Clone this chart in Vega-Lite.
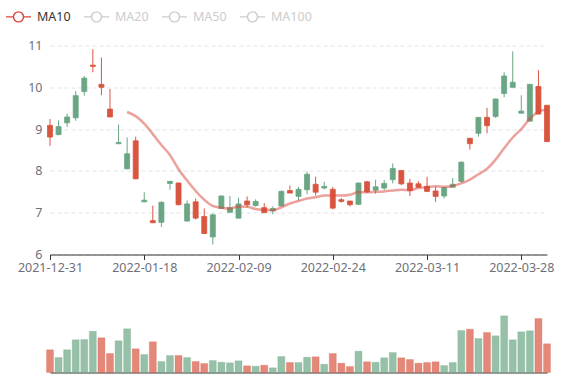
{
  "$schema": "https://vega.github.io/schema/vega-lite/v6.json",
  "padding": {"left": 0, "top": 2.5, "right": 5, "bottom": 3},
  "bounds": "flush",
  "spacing": 46,
  "config": {
    "font": "Noto Sans",
    "view": {"stroke": null},
    "axis": {"labelFont": "Noto Sans", "labelFontSize": 12.5, "labelColor": "#6e7079", "title": null}
  },
  "data": {
    "values": [
      {"date": "2021-12-31", "open": 9.09, "high": 9.24, "low": 8.60, "close": 8.81, "volume": 227, "volUp": false, "ma10": null},
      {"date": "2022-01-04", "open": 8.87, "high": 9.21, "low": 8.85, "close": 9.06, "volume": 150, "volUp": true, "ma10": null},
      {"date": "2022-01-05", "open": 9.15, "high": 9.37, "low": 9.05, "close": 9.29, "volume": 227, "volUp": true, "ma10": null},
      {"date": "2022-01-06", "open": 9.27, "high": 9.91, "low": 9.20, "close": 9.80, "volume": 327, "volUp": true, "ma10": null},
      {"date": "2022-01-07", "open": 9.90, "high": 10.27, "low": 9.80, "close": 10.22, "volume": 330, "volUp": true, "ma10": null},
      {"date": "2022-01-10", "open": 10.53, "high": 10.91, "low": 10.36, "close": 10.50, "volume": 413, "volUp": true, "ma10": null},
      {"date": "2022-01-11", "open": 10.07, "high": 10.71, "low": 9.81, "close": 10.00, "volume": 347, "volUp": false, "ma10": null},
      {"date": "2022-01-12", "open": 9.48, "high": 9.96, "low": 9.29, "close": 9.29, "volume": 190, "volUp": false, "ma10": null},
      {"date": "2022-01-13", "open": 8.65, "high": 9.11, "low": 8.64, "close": 8.68, "volume": 317, "volUp": true, "ma10": null},
      {"date": "2022-01-14", "open": 8.05, "high": 8.80, "low": 8.04, "close": 8.41, "volume": 437, "volUp": true, "ma10": 9.41},
      {"date": "2022-01-17", "open": 8.72, "high": 8.82, "low": 7.81, "close": 7.81, "volume": 237, "volUp": false, "ma10": 9.31},
      {"date": "2022-01-18", "open": 7.26, "high": 7.49, "low": 7.25, "close": 7.30, "volume": 180, "volUp": true, "ma10": 9.13},
      {"date": "2022-01-19", "open": 6.81, "high": 7.17, "low": 6.75, "close": 6.76, "volume": 307, "volUp": false, "ma10": 8.88},
      {"date": "2022-01-20", "open": 6.77, "high": 7.27, "low": 6.66, "close": 7.25, "volume": 110, "volUp": true, "ma10": 8.62},
      {"date": "2022-01-21", "open": 7.70, "high": 7.76, "low": 7.55, "close": 7.75, "volume": 170, "volUp": true, "ma10": 8.38},
      {"date": "2022-01-24", "open": 7.71, "high": 7.72, "low": 7.18, "close": 7.19, "volume": 170, "volUp": false, "ma10": 8.04},
      {"date": "2022-01-25", "open": 6.80, "high": 7.29, "low": 6.79, "close": 7.21, "volume": 150, "volUp": true, "ma10": 7.77},
      {"date": "2022-01-26", "open": 7.26, "high": 7.34, "low": 6.84, "close": 6.87, "volume": 110, "volUp": false, "ma10": 7.52},
      {"date": "2022-01-27", "open": 6.91, "high": 7.10, "low": 6.50, "close": 6.50, "volume": 90, "volUp": false, "ma10": 7.31},
      {"date": "2022-01-28", "open": 6.42, "high": 6.98, "low": 6.24, "close": 6.95, "volume": 120, "volUp": true, "ma10": 7.16},
      {"date": "2022-02-07", "open": 7.10, "high": 7.41, "low": 7.09, "close": 7.40, "volume": 103, "volUp": true, "ma10": 7.12},
      {"date": "2022-02-08", "open": 7.01, "high": 7.40, "low": 7.00, "close": 7.12, "volume": 97, "volUp": true, "ma10": 7.10},
      {"date": "2022-02-09", "open": 6.87, "high": 7.36, "low": 6.86, "close": 7.21, "volume": 117, "volUp": true, "ma10": 7.15},
      {"date": "2022-02-10", "open": 7.28, "high": 7.39, "low": 7.13, "close": 7.19, "volume": 67, "volUp": false, "ma10": 7.14},
      {"date": "2022-02-11", "open": 7.17, "high": 7.32, "low": 7.15, "close": 7.27, "volume": 63, "volUp": true, "ma10": 7.09},
      {"date": "2022-02-14", "open": 7.12, "high": 7.23, "low": 7.00, "close": 7.00, "volume": 73, "volUp": false, "ma10": 7.07},
      {"date": "2022-02-15", "open": 7.04, "high": 7.15, "low": 6.96, "close": 7.10, "volume": 47, "volUp": true, "ma10": 7.06},
      {"date": "2022-02-16", "open": 7.16, "high": 7.53, "low": 7.16, "close": 7.51, "volume": 160, "volUp": true, "ma10": 7.13},
      {"date": "2022-02-17", "open": 7.53, "high": 7.65, "low": 7.47, "close": 7.47, "volume": 100, "volUp": false, "ma10": 7.22},
      {"date": "2022-02-18", "open": 7.39, "high": 7.62, "low": 7.29, "close": 7.56, "volume": 100, "volUp": true, "ma10": 7.28},
      {"date": "2022-02-21", "open": 7.55, "high": 7.98, "low": 7.44, "close": 7.92, "volume": 153, "volUp": true, "ma10": 7.34},
      {"date": "2022-02-22", "open": 7.68, "high": 7.86, "low": 7.41, "close": 7.49, "volume": 157, "volUp": false, "ma10": 7.37},
      {"date": "2022-02-23", "open": 7.59, "high": 7.74, "low": 7.56, "close": 7.63, "volume": 83, "volUp": true, "ma10": 7.41},
      {"date": "2022-02-24", "open": 7.56, "high": 7.62, "low": 7.08, "close": 7.11, "volume": 190, "volUp": false, "ma10": 7.41},
      {"date": "2022-02-25", "open": 7.31, "high": 7.35, "low": 7.24, "close": 7.27, "volume": 93, "volUp": false, "ma10": 7.41},
      {"date": "2022-02-28", "open": 7.28, "high": 7.28, "low": 7.15, "close": 7.19, "volume": 60, "volUp": false, "ma10": 7.43},
      {"date": "2022-03-01", "open": 7.20, "high": 7.72, "low": 7.19, "close": 7.71, "volume": 213, "volUp": true, "ma10": 7.49},
      {"date": "2022-03-02", "open": 7.74, "high": 7.76, "low": 7.47, "close": 7.50, "volume": 107, "volUp": false, "ma10": 7.49},
      {"date": "2022-03-03", "open": 7.54, "high": 7.79, "low": 7.45, "close": 7.62, "volume": 103, "volUp": true, "ma10": 7.50},
      {"date": "2022-03-04", "open": 7.59, "high": 7.78, "low": 7.54, "close": 7.70, "volume": 147, "volUp": true, "ma10": 7.51},
      {"date": "2022-03-07", "open": 7.79, "high": 8.18, "low": 7.70, "close": 8.06, "volume": 200, "volUp": true, "ma10": 7.53},
      {"date": "2022-03-08", "open": 8.01, "high": 8.01, "low": 7.66, "close": 7.69, "volume": 147, "volUp": false, "ma10": 7.55},
      {"date": "2022-03-09", "open": 7.71, "high": 7.81, "low": 7.40, "close": 7.53, "volume": 130, "volUp": false, "ma10": 7.54},
      {"date": "2022-03-10", "open": 7.69, "high": 7.75, "low": 7.59, "close": 7.61, "volume": 93, "volUp": false, "ma10": 7.59},
      {"date": "2022-03-11", "open": 7.63, "high": 7.86, "low": 7.49, "close": 7.51, "volume": 100, "volUp": false, "ma10": 7.61},
      {"date": "2022-03-14", "open": 7.52, "high": 7.62, "low": 7.26, "close": 7.39, "volume": 107, "volUp": false, "ma10": 7.63},
      {"date": "2022-03-15", "open": 7.40, "high": 7.61, "low": 7.34, "close": 7.60, "volume": 70, "volUp": true, "ma10": 7.62},
      {"date": "2022-03-16", "open": 7.61, "high": 7.83, "low": 7.61, "close": 7.68, "volume": 100, "volUp": true, "ma10": 7.64},
      {"date": "2022-03-17", "open": 7.75, "high": 8.22, "low": 7.72, "close": 8.21, "volume": 420, "volUp": true, "ma10": 7.70},
      {"date": "2022-03-18", "open": 8.78, "high": 8.79, "low": 8.51, "close": 8.65, "volume": 433, "volUp": false, "ma10": 7.79},
      {"date": "2022-03-21", "open": 8.90, "high": 9.29, "low": 8.82, "close": 9.28, "volume": 340, "volUp": true, "ma10": 7.92},
      {"date": "2022-03-22", "open": 9.28, "high": 9.51, "low": 8.90, "close": 9.08, "volume": 400, "volUp": false, "ma10": 8.05},
      {"date": "2022-03-23", "open": 9.30, "high": 9.73, "low": 9.27, "close": 9.72, "volume": 367, "volUp": true, "ma10": 8.27},
      {"date": "2022-03-24", "open": 9.85, "high": 10.36, "low": 9.76, "close": 10.27, "volume": 567, "volUp": true, "ma10": 8.54},
      {"date": "2022-03-25", "open": 10.00, "high": 10.86, "low": 10.00, "close": 10.12, "volume": 327, "volUp": true, "ma10": 8.80},
      {"date": "2022-03-28", "open": 9.38, "high": 9.81, "low": 9.38, "close": 9.43, "volume": 407, "volUp": true, "ma10": 9.00},
      {"date": "2022-03-29", "open": 9.19, "high": 10.08, "low": 9.18, "close": 10.07, "volume": 417, "volUp": true, "ma10": 9.25},
      {"date": "2022-03-30", "open": 10.02, "high": 10.41, "low": 9.35, "close": 9.36, "volume": 540, "volUp": false, "ma10": 9.42},
      {"date": "2022-03-31", "open": 9.57, "high": 9.57, "low": 8.70, "close": 8.70, "volume": 287, "volUp": false, "ma10": 9.47}
    ]
  },
  "vconcat": [
    {
      "width": 497,
      "height": 209,
      "encoding": {
        "x": {
          "field": "date",
          "type": "ordinal",
          "scale": {"type": "point", "padding": 0},
          "axis": {
            "values": ["2021-12-31", "2022-01-18", "2022-02-09", "2022-02-24", "2022-03-11", "2022-03-28"],
            "labelAngle": 0,
            "title": null,
            "grid": false,
            "domainColor": "#333333",
            "tickColor": "#333333",
            "tickSize": 5,
            "labelPadding": 2
          }
        }
      },
      "layer": [
        {
          "mark": {"type": "rule", "strokeWidth": 1},
          "encoding": {
            "y": {
              "field": "low",
              "type": "quantitative",
              "scale": {"domain": [6, 11], "nice": false, "zero": false},
              "axis": {
                "values": [6, 7, 8, 9, 10, 11],
                "title": null,
                "grid": true,
                "gridColor": "#e0e3ea",
                "gridDash": [4, 3],
                "domain": false,
                "ticks": false,
                "labelPadding": 8,
                "minExtent": 50,
                "maxExtent": 50
              }
            },
            "y2": {"field": "high"},
            "color": {"condition": {"test": "datum.close >= datum.open", "value": "#6aa683"}, "value": "#d95540"}
          }
        },
        {
          "mark": {"type": "bar", "size": 5, "strokeWidth": 0.8},
          "encoding": {
            "y": {"field": "open", "type": "quantitative", "title": null},
            "y2": {"field": "close"},
            "color": {"condition": {"test": "datum.close >= datum.open", "value": "#6aa683"}, "value": "#d95540"},
            "stroke": {"condition": {"test": "datum.close >= datum.open", "value": "#6aa683"}, "value": "#d95540"}
          }
        },
        {
          "mark": {"type": "line", "interpolate": "monotone", "strokeWidth": 2.5, "opacity": 0.5},
          "encoding": {
            "y": {"field": "ma10", "type": "quantitative", "title": null},
            "color": {
              "datum": "MA10",
              "type": "nominal",
              "scale": {"domain": ["MA10", "MA20", "MA50", "MA100"], "range": ["#d9453a", "#cccccc", "#cccccc", "#cccccc"]},
              "legend": {
                "orient": "none",
                "legendX": -45,
                "legendY": -42.5,
                "direction": "horizontal",
                "title": null,
                "padding": 0,
                "symbolType": "M-1,0L-0.4,0M0.4,0L1,0M0.4,0A0.4,0.4,0,1,1,-0.4,0A0.4,0.4,0,1,1,0.4,0",
                "symbolSize": 625,
                "symbolStrokeWidth": 1.4,
                "symbolFillColor": "#ffffff",
                "symbolOpacity": 1,
                "labelOffset": 5,
                "columnPadding": 10,
                "labelFontSize": 12.5,
                "labelFont": "Noto Sans",
                "encode": {
                  "labels": {"update": {"fill": {"signal": "datum.value === 'MA10' ? '#333333' : '#cccccc'"}}}
                }
              }
            }
          }
        }
      ]
    },
    {
      "width": 497,
      "height": 72,
      "mark": {"type": "bar", "size": 7, "fillOpacity": 0.7, "strokeWidth": 1, "strokeOpacity": 0.25},
      "encoding": {
        "x": {
          "field": "date",
          "type": "ordinal",
          "scale": {"type": "point", "padding": 0},
          "axis": {"labels": false, "ticks": false, "title": null, "grid": false, "domainColor": "#333333"}
        },
        "y": {"field": "volume", "type": "quantitative", "scale": {"domain": [0, 720]}, "axis": null},
        "color": {"condition": {"test": "datum.volUp", "value": "#6aa683"}, "value": "#d95540"},
        "stroke": {"condition": {"test": "datum.volUp", "value": "#6aa683"}, "value": "#d95540"}
      }
    }
  ]
}
